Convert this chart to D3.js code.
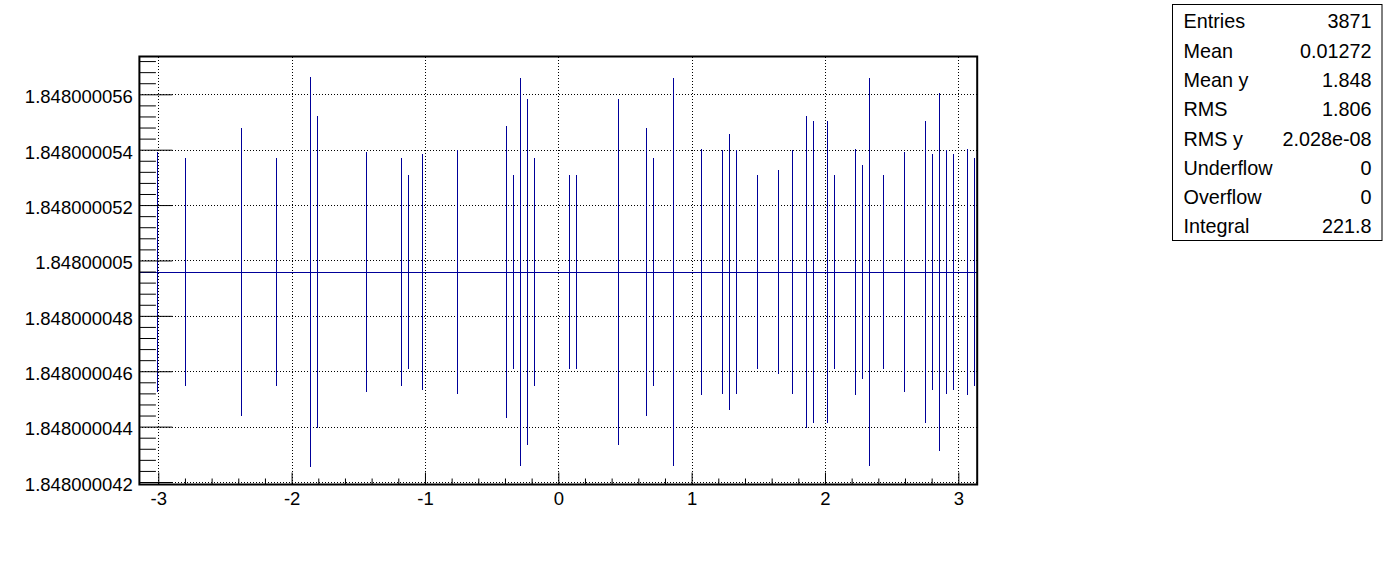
<!DOCTYPE html>
<html>
<head>
<meta charset="utf-8">
<script src="https://cdn.jsdelivr.net/npm/d3@7"></script>
<style>
  html, body { margin: 0; padding: 0; background: #ffffff; }
  svg { display: block; }
  text { font-family: "Liberation Sans", Arial, Helvetica, sans-serif; }
</style>
</head>
<body>
<svg id="chart" width="1396" height="572"></svg>
<script>
// ---------------- data ----------------
const nBins = 120;
const xLow = -Math.PI;
const xHigh = Math.PI;
const binMean = 1.848000049584;           // profile mean (same in every bin)
const errBins = [2, 6, 14, 19, 24, 25, 32, 37, 38, 40, 45, 52, 53, 54, 55, 56, 61, 62, 68, 72,
                 73, 76, 80, 83, 84, 85, 88, 91, 93, 95, 96, 98, 99, 102, 103, 104, 106, 109, 112,
                 113, 114, 115, 116, 118, 119];
const errValues = [4.32e-9, 4.12e-9, 5.19e-9, 4.12e-9, 7.03e-9, 5.62e-9, 4.32e-9, 4.12e-9, 3.50e-9, 4.27e-9,
                   4.42e-9, 5.28e-9, 3.50e-9, 7.02e-9, 6.25e-9, 4.12e-9, 3.50e-9, 3.50e-9, 6.25e-9, 5.19e-9,
                   4.12e-9, 7.02e-9, 4.44e-9, 4.42e-9, 4.97e-9, 4.42e-9, 3.50e-9, 3.67e-9, 4.42e-9, 5.62e-9,
                   5.44e-9, 5.44e-9, 3.50e-9, 4.44e-9, 3.85e-9, 7.02e-9, 3.50e-9, 4.32e-9, 5.44e-9,
                   4.26e-9, 6.45e-9, 4.42e-9, 4.26e-9, 4.44e-9, 4.12e-9];
const yDomain = [1.84800004191, 1.848000057365];

const xTickValues = [-3, -2, -1, 0, 1, 2, 3];
const xTickLabels = ["-3", "-2", "-1", "0", "1", "2", "3"];
const yTickValues = [1.848000042, 1.848000044, 1.848000046, 1.848000048,
                     1.848000050, 1.848000052, 1.848000054, 1.848000056];
const yTickLabels = ["1.848000042", "1.848000044", "1.848000046", "1.848000048",
                     "1.84800005", "1.848000052", "1.848000054", "1.848000056"];

const statLabels = ["Entries", "Mean", "Mean y", "RMS", "RMS y", "Underflow", "Overflow", "Integral"];
const statValues = ["3871", "0.01272", "1.848", "1.806", "2.028e-08", "0", "0", "221.8"];

// ---------------- layout ----------------
const frame = { left: 139.4, right: 977.2, top: 56.5, bottom: 484.5 };
const lineColor = "#000099";

const svg = d3.select("#chart");
svg.append("rect").attr("width", 1396).attr("height", 572).attr("fill", "#ffffff");

const x = d3.scaleLinear().domain([xLow, xHigh]).range([frame.left, frame.right]);
const y = d3.scaleLinear().domain(yDomain).range([frame.bottom, frame.top]);

// minor tick values (axis subdivisions)
const xMinor = d3.range(0, 31).filter(k => k % 5 !== 0).map(k => -3 + k * 0.2);
const yMinor = d3.range(0, 39).filter(k => k % 5 !== 0).map(k => 1.848000042 + k * 0.4e-9);

// ---------------- grid ----------------
const grid = svg.append("g").attr("stroke", "#000").attr("stroke-width", 1)
  .attr("stroke-dasharray", "1,2").attr("shape-rendering", "crispEdges");
grid.selectAll("line.gx").data(xTickValues).join("line")
  .attr("x1", d => Math.round(x(d)) + 0.5).attr("x2", d => Math.round(x(d)) + 0.5)
  .attr("y1", frame.top).attr("y2", frame.bottom);
grid.selectAll("line.gy").data(yTickValues).join("line")
  .attr("y1", d => Math.round(y(d)) + 0.5).attr("y2", d => Math.round(y(d)) + 0.5)
  .attr("x1", frame.left).attr("x2", frame.right);

// ---------------- profile (bins) ----------------
const binW = (xHigh - xLow) / nBins;
const bins = d3.range(nBins).map(i => ({ lo: xLow + i * binW, hi: xLow + (i + 1) * binW, mean: binMean }));
const g = svg.append("g").attr("stroke", lineColor).attr("stroke-width", 1).attr("shape-rendering", "crispEdges");
g.selectAll("line.h").data(bins).join("line")
  .attr("x1", d => x(d.lo)).attr("x2", d => x(d.hi))
  .attr("y1", d => Math.round(y(d.mean)) + 0.5).attr("y2", d => Math.round(y(d.mean)) + 0.5);
const errData = errBins.map((b, i) => ({ c: xLow + (b + 0.5) * binW, e: errValues[i] }));
g.selectAll("line.v").data(errData).join("line")
  .attr("x1", d => Math.round(x(d.c)) + 0.5).attr("x2", d => Math.round(x(d.c)) + 0.5)
  .attr("y1", d => y(binMean + d.e)).attr("y2", d => y(binMean - d.e));

// ---------------- axes ----------------
const fontSize = 18.5;
const yAxis = svg.append("g").attr("transform", `translate(${frame.left},0)`)
  .call(d3.axisLeft(y).tickValues(yTickValues).tickFormat((d, i) => yTickLabels[i])
    .tickSize(-33).tickPadding(6.5));
const yAxisMinor = svg.append("g").attr("transform", `translate(${frame.left},0)`)
  .call(d3.axisLeft(y).tickValues(yMinor).tickFormat("").tickSize(-16.5));
const xAxis = svg.append("g").attr("transform", `translate(0,${frame.bottom})`)
  .call(d3.axisBottom(x).tickValues(xTickValues).tickFormat((d, i) => xTickLabels[i])
    .tickSize(-12).tickPadding(7.5));
const xAxisMinor = svg.append("g").attr("transform", `translate(0,${frame.bottom})`)
  .call(d3.axisBottom(x).tickValues(xMinor).tickFormat("").tickSize(-6));

[yAxis, yAxisMinor, xAxis, xAxisMinor].forEach(a => {
  a.select(".domain").remove();
  a.selectAll(".tick line").attr("stroke", "#000").attr("stroke-width", 1);
  a.selectAll(".tick text").attr("fill", "#000").attr("font-size", fontSize)
    .attr("font-family", "'Liberation Sans', Arial, Helvetica, sans-serif");
});
yAxis.selectAll(".tick text").attr("dy", "0.45em");

// frame
svg.append("rect")
  .attr("x", frame.left).attr("y", frame.top)
  .attr("width", frame.right - frame.left).attr("height", frame.bottom - frame.top)
  .attr("fill", "none").attr("stroke", "#000").attr("stroke-width", 2);

// ---------------- stats box ----------------
const box = { x: 1172.5, y: 4.5, w: 209.5, h: 236 };
svg.append("rect").attr("x", box.x).attr("y", box.y).attr("width", box.w).attr("height", box.h)
  .attr("fill", "#fff").attr("stroke", "#000").attr("stroke-width", 1);
const rowY = d3.scaleLinear().domain([0, statLabels.length - 1]).range([28.3, 233.4]);
const sg = svg.append("g").attr("font-size", 19.8).attr("fill", "#000");
sg.selectAll("text.l").data(statLabels).join("text")
  .attr("x", 1183.5).attr("y", (d, i) => rowY(i)).text(d => d);
sg.selectAll("text.v").data(statValues).join("text")
  .attr("x", 1371.5).attr("y", (d, i) => rowY(i)).attr("text-anchor", "end").text(d => d);
</script>
</body>
</html>
